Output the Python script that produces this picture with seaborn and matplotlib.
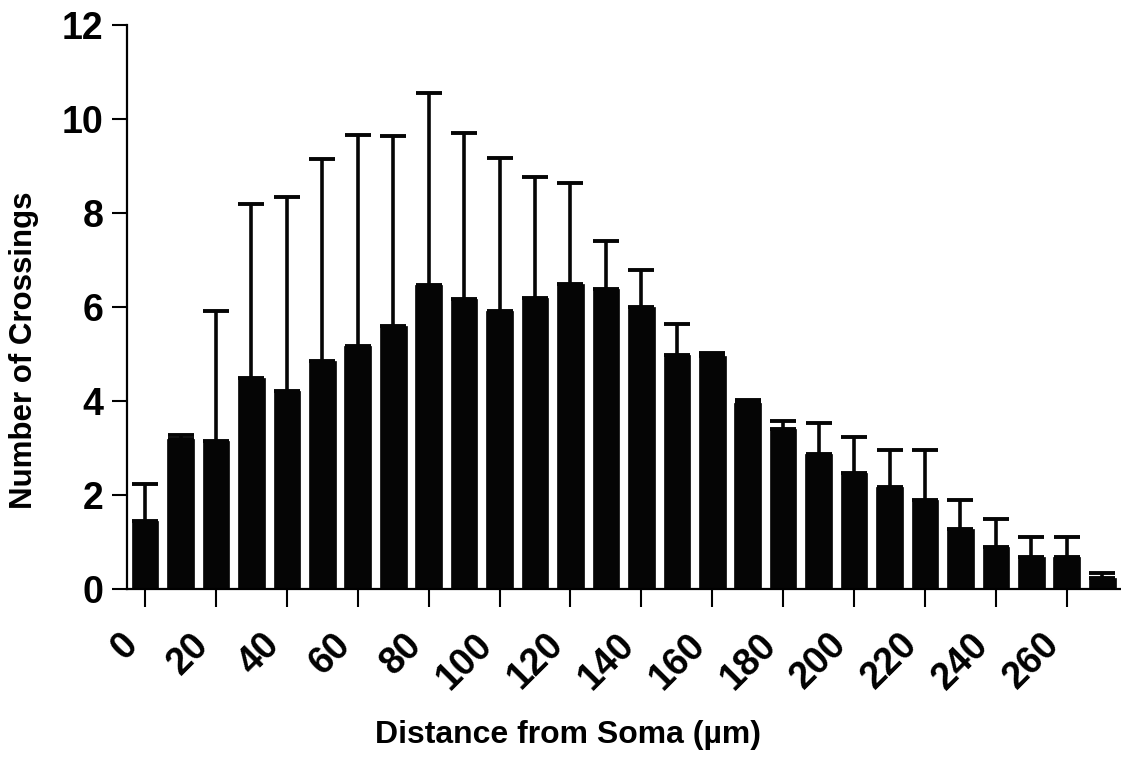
import matplotlib
matplotlib.use("Agg")
import matplotlib.pyplot as plt
import matplotlib.transforms as mtransforms
import numpy as np
import pandas as pd
import seaborn as sns

# Data
distance = [0, 10, 20, 30, 40, 50, 60, 70, 80, 90, 100, 110, 120, 130,
            140, 150, 160, 170, 180, 190, 200, 210, 220, 230, 240, 250, 260, 270]
mean_crossings = [1.45, 3.19, 3.15, 4.50, 4.22, 4.86, 5.16, 5.60, 6.47, 6.16,
                  5.92, 6.19, 6.50, 6.39, 6.00, 4.98, 4.96, 3.95, 3.40, 2.87,
                  2.47, 2.16, 1.90, 1.27, 0.90, 0.68, 0.68, 0.24]
sd_crossings = [0.78, 0.08, 2.77, 3.70, 4.11, 4.28, 4.50, 4.03, 4.09, 3.55,
                3.26, 2.57, 2.13, 1.01, 0.79, 0.65, 0.07, 0.07, 0.18, 0.67,
                0.77, 0.80, 1.06, 0.62, 0.59, 0.43, 0.43, 0.11]
x_tick_values = [0, 20, 40, 60, 80, 100, 120, 140, 160, 180, 200, 220, 240, 260]
y_ticks = [0, 2, 4, 6, 8, 10, 12]

sns.set_style("ticks")
plt.rcParams['font.family'] = ['Liberation Sans', 'DejaVu Sans']
plt.rcParams['font.weight'] = 'bold'
plt.rcParams['text.color'] = 'black'
plt.rcParams['axes.labelcolor'] = 'black'

df = pd.DataFrame({"distance": distance, "mean": mean_crossings, "sd": sd_crossings})

fig = plt.figure(figsize=(11.21, 7.57), dpi=100)
ax = fig.add_axes([127 / 1121, 1 - 589 / 757, (1121 - 127) / 1121, (589 - 25) / 757])

sns.barplot(data=df, x="distance", y="mean", order=distance, color="#050505",
            width=0.75, errorbar=None, saturation=1, ax=ax, edgecolor="#050505",
            linewidth=0.5, zorder=2)

pos = np.arange(len(distance))
ax.errorbar(pos, df["mean"], yerr=[np.zeros(len(distance)), df["sd"]],
            fmt="none", ecolor="#050505", elinewidth=2.6, capsize=9.5,
            capthick=2.8, zorder=3)

ax.set_xlim(-0.51, 27.53)
ax.set_ylim(0, 12)
ax.set_yticks(y_ticks)
ax.set_yticklabels([str(v) for v in y_ticks], fontsize=27, fontweight='bold')

tick_idx = [distance.index(v) for v in x_tick_values]
ax.set_xticks(tick_idx)
ax.set_xticklabels([str(v) for v in x_tick_values], fontsize=27,
                   fontweight='bold', rotation=45, ha='right', va='top')
offset = mtransforms.ScaledTranslation(6 / 100, 0, fig.dpi_scale_trans)
for lab in ax.get_xticklabels():
    lab.set_transform(lab.get_transform() + offset)

ax.tick_params(axis='y', length=11, width=1.5, pad=6, colors='black')
ax.tick_params(axis='x', length=13, width=1.5, pad=14, colors='black')

for s in ['top', 'right']:
    ax.spines[s].set_visible(False)
for s in ['left', 'bottom']:
    ax.spines[s].set_linewidth(1.6)
    ax.spines[s].set_color('black')

ax.set_xlabel("Distance from Soma (µm)", fontsize=23, fontweight='bold',
              color='black', va='center')
ax.set_ylabel("Number of Crossings", fontsize=22.5, fontweight='bold',
              color='black', va='center')
ax.xaxis.set_label_coords(0.444, -0.259)
ax.yaxis.set_label_coords(-0.1036, 0.424)

fig.savefig("out.png", dpi=100)
